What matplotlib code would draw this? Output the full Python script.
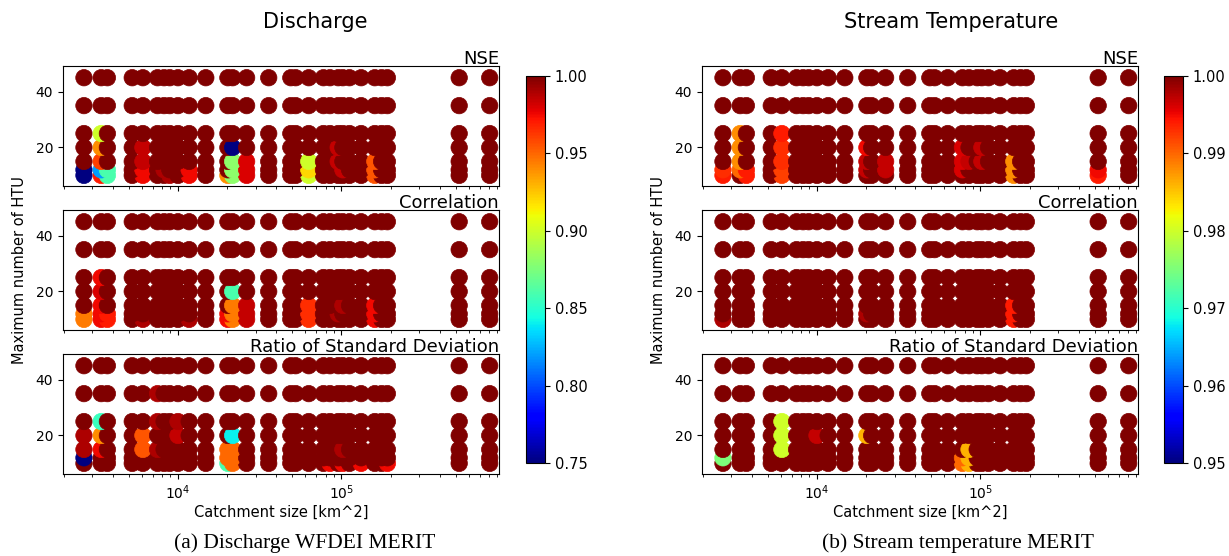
import matplotlib
matplotlib.use("Agg")
import matplotlib.pyplot as plt
import numpy as np
from matplotlib.colors import Normalize
from matplotlib.cm import ScalarMappable
from matplotlib.ticker import LogLocator, NullFormatter

# ── Data ──────────────────────────────────────────────────────────────────────
catchment = [2660, 3390, 3700, 5250, 6100, 7500, 8220, 8910, 10000, 11700,
             14800, 20200, 21600, 26300, 35900, 49000, 52500, 63100, 77600,
             85100, 95500, 102000, 112000, 132000, 160000, 176000, 191000,
             525000, 807000]
htu = [10, 12, 15, 20, 25, 35, 45]
# column index in catchment, HTU, metric value; every other point is >= 1.0
DEFAULT = 1.0

q_nse = [(0, 10, 0.74), (0, 12, 0.74), (1, 25, 0.90), (1, 20, 0.94),
         (1, 15, 0.96), (1, 12, 0.82), (1, 10, 0.97), (2, 12, 0.86),
         (2, 10, 0.86), (4, 20, 0.985), (4, 15, 0.985), (4, 12, 0.975),
         (4, 10, 0.975), (6, 12, 0.99), (7, 10, 0.99), (9, 12, 0.975),
         (9, 10, 0.975), (11, 10, 0.94), (12, 20, 0.75), (12, 15, 0.88),
         (12, 12, 0.88), (12, 10, 0.88), (13, 15, 0.98), (13, 12, 0.98),
         (13, 10, 0.98), (17, 15, 0.90), (17, 12, 0.92), (17, 10, 0.90),
         (20, 20, 0.985), (20, 15, 0.985), (21, 12, 0.985), (24, 15, 0.955),
         (24, 12, 0.955), (24, 10, 0.955)]
q_cor = [(0, 12, 0.945), (0, 10, 0.945), (1, 25, 0.975), (1, 20, 0.98),
         (1, 15, 0.975), (1, 12, 0.975), (1, 10, 0.975), (2, 12, 0.97),
         (2, 10, 0.97), (4, 10, 0.99), (9, 10, 0.99), (11, 12, 0.975),
         (11, 10, 0.975), (12, 20, 0.86), (12, 15, 0.945), (12, 12, 0.945),
         (12, 10, 0.945), (13, 15, 0.985), (13, 12, 0.985), (13, 10, 0.985),
         (17, 15, 0.965), (17, 12, 0.965), (17, 10, 0.965), (20, 12, 0.99),
         (21, 15, 0.99), (24, 15, 0.975), (24, 12, 0.975), (24, 10, 0.975)]
q_std = [(0, 20, 0.99), (0, 15, 0.99), (0, 12, 0.74), (1, 25, 0.855),
         (1, 20, 0.94), (1, 15, 0.975), (4, 20, 0.955), (4, 15, 0.955),
         (5, 35, 0.99), (5, 25, 0.99), (5, 15, 0.99), (8, 20, 0.985),
         (8, 25, 0.99), (11, 15, 0.95), (11, 12, 0.95), (11, 10, 0.86),
         (12, 20, 0.84), (12, 15, 0.95), (12, 12, 0.95), (12, 10, 0.95),
         (19, 10, 0.975), (21, 10, 0.975), (21, 15, 0.99), (23, 10, 0.975),
         (26, 10, 0.975)]

t_nse = [(0, 12, 0.993), (0, 10, 0.994), (1, 25, 0.988), (1, 20, 0.988),
         (1, 15, 0.988), (1, 12, 0.99), (2, 12, 0.994), (2, 10, 0.994),
         (4, 25, 0.994), (4, 20, 0.993), (4, 15, 0.993), (4, 12, 0.992),
         (4, 10, 0.992), (11, 20, 0.995), (11, 15, 0.997), (11, 12, 0.997),
         (13, 15, 0.997), (13, 12, 0.997), (18, 20, 0.996), (18, 15, 0.996),
         (18, 12, 0.996), (19, 15, 0.997), (21, 20, 0.997), (21, 15, 0.997),
         (24, 15, 0.988), (24, 12, 0.988), (24, 10, 0.988), (27, 12, 0.995),
         (27, 10, 0.994)]
t_cor = [(0, 10, 0.998), (11, 12, 0.998), (24, 15, 0.994), (24, 12, 0.994),
         (24, 10, 0.994)]
t_std = [(0, 12, 0.975), (4, 25, 0.98), (4, 20, 0.98), (4, 15, 0.98),
         (8, 20, 0.997), (11, 20, 0.986), (18, 12, 0.99), (18, 10, 0.99),
         (19, 15, 0.986), (19, 12, 0.986), (19, 10, 0.986)]

panels = [
    dict(title="Discharge", caption="(a) Discharge WFDEI MERIT",
         vmin=0.75, vmax=1.0, cticks=[0.75, 0.80, 0.85, 0.90, 0.95, 1.00],
         metrics=[("NSE", q_nse), ("Correlation", q_cor),
                  ("Ratio of Standard Deviation", q_std)]),
    dict(title="Stream Temperature", caption="(b) Stream temperature MERIT",
         vmin=0.95, vmax=1.0, cticks=[0.95, 0.96, 0.97, 0.98, 0.99, 1.00],
         metrics=[("NSE", t_nse), ("Correlation", t_cor),
                  ("Ratio of Standard Deviation", t_std)]),
]

# ── Layout (pixel boxes -> figure fractions) ────────────────────────────────
W, H = 1229, 556
fig = plt.figure(figsize=(W / 100, H / 100), dpi=100, facecolor="white")

ax_left = [63, 702]
ax_w = 436
row_top = [66, 210, 354]
row_h = 120
cb_left = [526, 1164]
title_x = [315, 951]
caption_x = [305, 958]


def frac(x0, y_top, w, h):
    return [x0 / W, 1 - (y_top + h) / H, w / W, h / H]


for p, panel in enumerate(panels):
    norm = Normalize(vmin=panel["vmin"], vmax=panel["vmax"])
    cmap = plt.get_cmap("jet")
    for r, (label, exceptions) in enumerate(panel["metrics"]):
        ax = fig.add_axes(frac(ax_left[p], row_top[r], ax_w, row_h))
        vals = {(c, h): v for c, h, v in exceptions}
        xs, ys, cs = [], [], []
        for h in htu:
            for c, x in enumerate(catchment):
                xs.append(x)
                ys.append(h)
                cs.append(vals.get((c, h), DEFAULT))
        ax.scatter(xs, ys, c=cs, cmap=cmap, norm=norm, s=140,
                   edgecolors="face", linewidths=0.5, zorder=3)
        ax.set_xscale("log")
        ax.set_xlim(1980, 920000)
        ax.set_ylim(6.2, 49.2)
        ax.set_yticks([20, 40])
        ax.xaxis.set_major_locator(LogLocator(base=10, numticks=10))
        ax.xaxis.set_minor_locator(LogLocator(base=10, subs=np.arange(2, 10),
                                              numticks=20))
        ax.xaxis.set_minor_formatter(NullFormatter())
        ax.tick_params(labelsize=10)
        if r < 2:
            ax.tick_params(axis="x", which="both", labelbottom=False)
        else:
            ax.set_xlabel("Catchment size [km^2]", fontsize=10.5, labelpad=2)
        if r == 1:
            ax.set_ylabel("Maximum number of HTU", fontsize=10.5, labelpad=6)
        ax.text(1.0, 0.985, label, transform=ax.transAxes, ha="right",
                va="bottom", fontsize=13)

    cax = fig.add_axes(frac(cb_left[p], 76, 19, 387))
    cb = fig.colorbar(ScalarMappable(norm=norm, cmap=cmap), cax=cax)
    cb.set_ticks(panel["cticks"])
    cb.ax.set_yticklabels([f"{t:.2f}" for t in panel["cticks"]])
    cb.ax.tick_params(labelsize=10.5)

    fig.text(title_x[p] / W, 1 - 22 / H, panel["title"], ha="center",
             va="center", fontsize=15)
    fig.text(caption_x[p] / W, 1 - 543 / H, panel["caption"],
             ha="center", va="center", fontsize=15.5,
             family=["Liberation Serif", "DejaVu Serif"])

fig.savefig("out.png", dpi=100, facecolor="white")
